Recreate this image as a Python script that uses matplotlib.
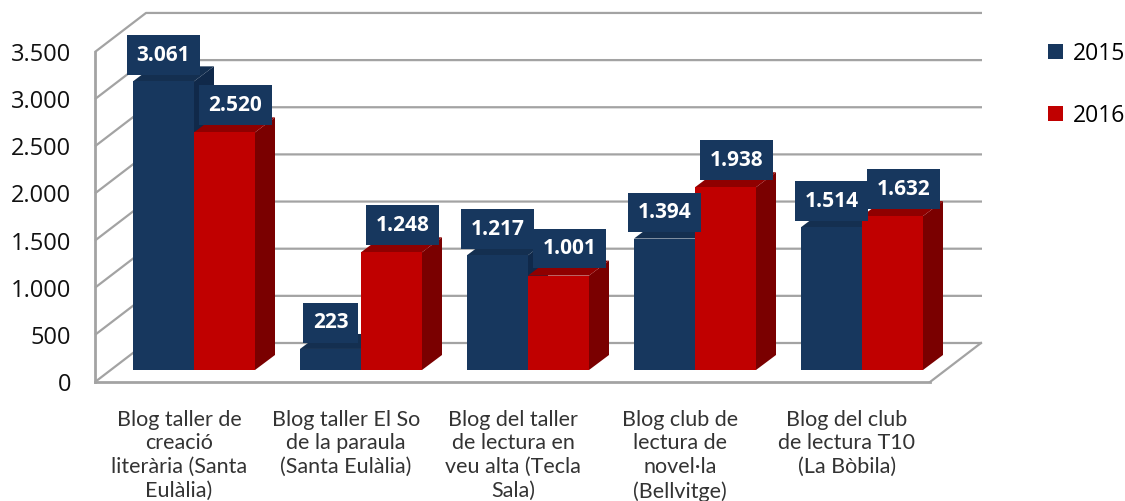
import matplotlib
matplotlib.use('Agg')
import matplotlib.pyplot as plt
from matplotlib.patches import Polygon, Patch

categories = ['Blog taller de\ncreació\nliterària (Santa\nEulàlia)',
              'Blog taller El So\nde la paraula\n(Santa Eulàlia)',
              'Blog del taller\nde lectura en\nveu alta (Tecla\nSala)',
              'Blog club de\nlectura de\nnovel·la\n(Bellvitge)',
              'Blog del club\nde lectura T10\n(La Bòbila)']
years = ['2015', '2016']
values_2015 = [3061, 223, 1217, 1394, 1514]
values_2016 = [2520, 1248, 1001, 1938, 1632]
yticks = [0, 500, 1000, 1500, 2000, 2500, 3000, 3500]
ytick_labels = ['0', '500', '1.000', '1.500', '2.000', '2.500', '3.000', '3.500']

W, H = 1125, 501
X_UNIT = 167.0      # px per category
Y_UNIT = 0.0943     # px per value
GRID = '#a3a3a3'
BLUE = ('#17375e', '#142f50', '#10294a')
RED = ('#c00000', '#8f0000', '#7a0000')

plt.rcParams['font.family'] = ['Open Sans', 'DejaVu Sans']

fig = plt.figure(figsize=(W / 100, H / 100), dpi=100)
ax = fig.add_axes([95 / W, (H - 382) / H, (W - 95) / W, 382 / H])
ax.set_xlim((95 - 179) / X_UNIT, (W - 179) / X_UNIT)
ax.set_ylim(0, 382 / Y_UNIT)

def px(dx):
    return dx / X_UNIT

def py(dy):
    return dy / Y_UNIT

# wall and floor offsets, all in data units
wall_dx, wall_dy = px(51), py(39)
x_left = ax.get_xlim()[0]
x_right = x_left + px(835)

for t in yticks:
    ax.plot([x_left, x_left + wall_dx, x_left + px(887)], [t, t + wall_dy, t + wall_dy],
            color=GRID, lw=1.6, solid_capstyle='butt', zorder=1, clip_on=False)
ax.plot([x_right, x_right + wall_dx], [0, wall_dy], color=GRID, lw=1.6, zorder=1)

for s in ['top', 'right']:
    ax.spines[s].set_visible(False)
for s in ['left', 'bottom']:
    ax.spines[s].set_color(GRID)
    ax.spines[s].set_linewidth(2)
ax.spines['left'].set_bounds(0, 3500)
ax.spines['bottom'].set_bounds(x_left, x_right)

ax.set_yticks(yticks)
ax.set_yticklabels(ytick_labels, fontsize=17, color='#111111')
ax.tick_params(axis='y', length=0, pad=17)
ax.set_xticks(range(len(categories)))
ax.set_xticklabels(categories, fontsize=15.5, family=['Lato', 'DejaVu Sans'], color='#333333',
                   linespacing=1.23)
ax.tick_params(axis='x', length=0, pad=20)

# bars, front face plus oblique top and side
base = py(382 - 370)
bar_w = px(61)
depth_x, depth_y = px(20), py(15)
group_shift = px(15)

def draw_bar(x, v, cols, z):
    ax.bar(x, v, bar_w, bottom=base, align='edge', color=cols[0], zorder=z + 0.2)
    top = base + v
    ax.add_patch(Polygon([(x, top), (x + bar_w, top), (x + bar_w + depth_x, top + depth_y), (x + depth_x, top + depth_y)],
                         closed=True, fc=cols[1], ec='none', zorder=z + 0.1))
    ax.add_patch(Polygon([(x + bar_w, base), (x + bar_w + depth_x, base + depth_y), (x + bar_w + depth_x, top + depth_y), (x + bar_w, top)],
                         closed=True, fc=cols[2], ec='none', zorder=z))

def fmt(v):
    return f'{v:,}'.replace(',', '.')

for i, (a, b) in enumerate(zip(values_2015, values_2016)):
    x0 = i + group_shift - bar_w
    x1 = i + group_shift
    draw_bar(x0, a, BLUE, 2 + i)
    draw_bar(x1, b, RED, 2.5 + i)
    box = dict(boxstyle='square,pad=0.45', fc=BLUE[0], ec='none')
    ax.text(x0 + bar_w / 2, base + a + py(26), fmt(a), ha='center', va='center', color='white',
            fontsize=15, fontweight='bold', bbox=box, zorder=20)
    ax.text(x1 + bar_w / 2 + px(11), base + b + py(27), fmt(b), ha='center', va='center', color='white',
            fontsize=15, fontweight='bold', bbox=box, zorder=21)

handles = [Patch(fc=BLUE[0], ec='none'), Patch(fc=RED[0], ec='none')]
ax.legend(handles, years, loc='upper left', bbox_to_anchor=(1041 / W, 1 - 35 / H), bbox_transform=fig.transFigure,
          frameon=False, fontsize=16.5, handlelength=0.65, handleheight=0.65, handletextpad=0.42,
          labelspacing=1.65, borderpad=0.3, borderaxespad=0)

fig.savefig('out.png', dpi=100)
